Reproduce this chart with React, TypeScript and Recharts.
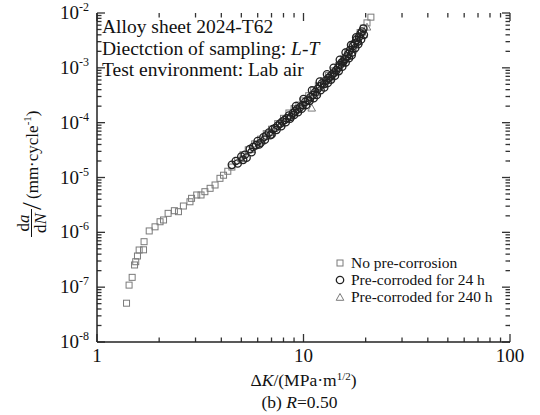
import { ReferenceLine, Scatter, ScatterChart, XAxis, YAxis } from "recharts";

const serif = "'Liberation Serif', 'DejaVu Serif', serif";

// ΔK (MPa·m^1/2) and da/dN (mm/cycle)
const noCorrDK = [
  1.39, 1.43, 1.48, 1.52, 1.54, 1.57, 1.6, 1.68, 1.69, 1.79, 1.91, 2.02, 2.1,
  2.21, 2.37, 2.48, 2.62, 2.82, 2.87, 3.04, 3.19, 3.33, 3.53, 3.73, 3.94, 4.1,
  4.3, 4.5, 4.8, 5.1, 5.4, 5.8, 6.2, 6.6, 7.0, 7.5, 8.0, 8.5, 9.0, 9.5, 10.0,
  10.6, 11.2, 11.8, 12.5, 13.2, 14.0, 14.8, 15.6, 16.4, 17.2, 18.0, 18.8, 19.5,
  20.3, 21.2,
];
const noCorrRate = [
  5.1e-8, 1.09e-7, 1.51e-7, 2.54e-7, 2.91e-7, 3.7e-7, 4.76e-7, 4.8e-7, 6.75e-7,
  1.06e-6, 1.26e-6, 1.56e-6, 1.68e-6, 2.22e-6, 2.48e-6, 2.38e-6, 3.02e-6,
  3.61e-6, 4.17e-6, 4.8e-6, 4.8e-6, 5.51e-6, 6.35e-6, 7.3e-6, 9.66e-6, 1.1e-5,
  1.3e-5, 1.55e-5, 2.05e-5, 2.6e-5, 3.2e-5, 4.1e-5, 5.0e-5, 6.3e-5, 7.6e-5,
  9.6e-5, 1.2e-4, 1.5e-4, 1.8e-4, 2.1e-4, 2.5e-4, 3.1e-4, 3.9e-4, 4.7e-4,
  5.8e-4, 7.2e-4, 8.8e-4, 1.1e-3, 1.45e-3, 1.95e-3, 2.6e-3, 3.4e-3, 4.4e-3,
  5.3e-3, 6.6e-3, 8.4e-3,
];

const corr24DK = [
  4.5, 4.7, 4.8, 5.0, 5.2, 5.3, 5.5, 5.7, 5.9, 6.0, 6.2, 6.4, 6.6, 6.8, 6.9,
  7.1, 7.3, 7.5, 7.7, 7.9, 8.1, 8.3, 8.5, 8.7, 8.9, 9.1, 9.3, 9.6, 9.9, 10.2,
  10.5, 10.8, 11.1, 11.4, 11.7, 12.0, 12.3, 12.6, 12.9, 13.2, 13.5, 13.8, 14.1,
  14.4, 14.7, 15.0, 15.3, 15.6, 15.9, 16.2, 16.5, 16.8, 17.1, 17.4, 17.7, 18.0,
  18.3, 18.6, 18.9, 19.2, 19.5, 5.1, 5.6, 6.1, 6.5, 7.0, 7.4, 7.8, 8.2, 8.6,
  9.0, 9.4, 9.8, 10.3, 10.7, 11.2, 11.6, 12.1, 12.6, 13.1, 13.6, 14.2, 14.8,
  15.4, 16.0, 16.6, 17.2, 17.8, 18.4, 19.0, 19.6, 9.2, 10.0, 11.0, 12.0, 13.0,
  14.0, 15.0, 16.0, 17.0, 18.0,
];
const corr24Rate = [
  1.7e-5, 2.0e-5, 1.8e-5, 2.4e-5, 2.6e-5, 2.3e-5, 3.3e-5, 3.6e-5, 3.9e-5,
  4.6e-5, 4.3e-5, 5.4e-5, 5.8e-5, 6.6e-5, 5.9e-5, 7.6e-5, 8.0e-5, 8.8e-5,
  9.6e-5, 1.05e-4, 1.12e-4, 1.2e-4, 1.35e-4, 1.28e-4, 1.5e-4, 1.6e-4, 1.75e-4,
  1.9e-4, 2.1e-4, 2.4e-4, 2.6e-4, 2.9e-4, 3.2e-4, 3.6e-4, 4.1e-4, 4.6e-4,
  5.2e-4, 5.1e-4, 5.9e-4, 6.5e-4, 7.0e-4, 7.6e-4, 8.2e-4, 9.0e-4, 1.0e-3,
  1.12e-3, 1.25e-3, 1.3e-3, 1.45e-3, 1.6e-3, 1.8e-3, 2.1e-3, 1.7e-3, 2.5e-3,
  2.8e-3, 3.2e-3, 3.0e-3, 3.7e-3, 4.2e-3, 4.6e-3, 5.2e-3, 2.1e-5, 2.9e-5,
  4.0e-5, 4.9e-5, 6.1e-5, 7.4e-5, 8.6e-5, 1.02e-4, 1.18e-4, 1.38e-4, 1.55e-4,
  1.8e-4, 2.1e-4, 2.5e-4, 2.8e-4, 3.2e-4, 3.9e-4, 4.4e-4, 5.3e-4, 6.1e-4,
  7.2e-4, 8.7e-4, 1.05e-3, 1.25e-3, 1.5e-3, 1.9e-3, 2.3e-3, 2.7e-3, 3.3e-3,
  4.0e-3, 2.0e-4, 2.7e-4, 3.9e-4, 5.6e-4, 7.6e-4, 1.0e-3, 1.4e-3, 1.9e-3,
  2.6e-3, 3.6e-3,
];

const corr240DK = [
  5.0, 5.6, 6.3, 7.0, 7.8, 8.6, 9.4, 10.0, 10.96, 11.5, 12.5, 13.5, 14.5, 15.5,
  16.5, 17.5, 18.5, 19.5, 20.3,
];
const corr240Rate = [
  2.2e-5, 3.2e-5, 4.6e-5, 6.5e-5, 9.5e-5, 1.3e-4, 1.7e-4, 2.0e-4, 1.83e-4,
  3.5e-4, 4.9e-4, 6.5e-4, 8.6e-4, 1.2e-3, 1.6e-3, 2.2e-3, 3.0e-3, 4.0e-3,
  5.5e-3,
];

const xMajor = [1, 10, 100];
const yMajor = [1e-8, 1e-7, 1e-6, 1e-5, 1e-4, 1e-3, 1e-2];
const xMinor = [2, 3, 4, 5, 6, 7, 8, 9, 20, 30, 40, 50, 60, 70, 80, 90];
const yMinor = yMajor
  .slice(0, -1)
  .flatMap((d) => [2, 3, 4, 5, 6, 7, 8, 9].map((m) => m * d));

const legendItems = [
  { name: "No pre-corrosion", mark: "square" },
  { name: "Pre-corroded for 24 h", mark: "circle" },
  { name: "Pre-corroded for 240 h", mark: "triangle" },
];

const toPoints = (xs: number[], ys: number[]) =>
  xs.map((x, i) => ({ x, y: ys[i] }));

const noCorr = toPoints(noCorrDK, noCorrRate);
const corr24 = toPoints(corr24DK, corr24Rate);
const corr240 = toPoints(corr240DK, corr240Rate);

const Square = ({ cx, cy }: any) => (
  <rect x={cx - 3} y={cy - 3} width={6} height={6} fill="none" stroke="#7a7a7a" strokeWidth={1} />
);
const Circle = ({ cx, cy }: any) => (
  <circle cx={cx} cy={cy} r={3.7} fill="none" stroke="#222" strokeWidth={1.3} />
);
const Triangle = ({ cx, cy }: any) => (
  <path d={`M${cx},${cy - 4}L${cx + 3.8},${cy + 2.8}L${cx - 3.8},${cy + 2.8}Z`} fill="none" stroke="#7a7a7a" strokeWidth={1} />
);

// inward tick marks on all four sides, drawn from reference lines
const tickColor = "#333";
const tickLen = (major: boolean) => (major ? 8 : 4.5);

const yTickShape = (major: boolean) => (p: any) => {
  const len = tickLen(major);
  const left = Math.min(p.x1, p.x2);
  const right = Math.max(p.x1, p.x2);
  const y = p.y1;
  return (
    <g>
      <line x1={left} x2={left + len} y1={y} y2={y} stroke={tickColor} strokeWidth={1.3} />
      <line x1={right - len} x2={right} y1={y} y2={y} stroke={tickColor} strokeWidth={1.3} />
    </g>
  );
};

const xTickShape = (major: boolean) => (p: any) => {
  const len = tickLen(major);
  const top = Math.min(p.y1, p.y2);
  const bottom = Math.max(p.y1, p.y2);
  const x = p.x1;
  return (
    <g>
      <line x1={x} x2={x} y1={bottom - len} y2={bottom} stroke={tickColor} strokeWidth={1.3} />
      <line x1={x} x2={x} y1={top} y2={top + len} stroke={tickColor} strokeWidth={1.3} />
    </g>
  );
};

function XTick({ x, y, payload }: any) {
  return (
    <text x={x} y={y + 20} textAnchor="middle" fontSize={19} fontFamily={serif} fill="#111">
      {payload.value}
    </text>
  );
}

function YTick({ x, y, payload }: any) {
  const exp = Math.round(Math.log10(payload.value));
  return (
    <text x={x - 8} y={y + 6} textAnchor="end" fontSize={19} fontFamily={serif} fill="#111">
      <tspan>10</tspan>
      <tspan dy={-8} fontSize={12}>{exp}</tspan>
    </text>
  );
}

function XTitle({ viewBox }: any) {
  const cx = viewBox.x + viewBox.width / 2;
  const top = viewBox.y;
  return (
    <g fontFamily={serif} fill="#111">
      <text x={cx} y={top + 44} textAnchor="middle" fontSize={17.5}>
        <tspan>Δ</tspan>
        <tspan fontStyle="italic">K</tspan>
        <tspan>/(MPa·m</tspan>
        <tspan dy={-6} fontSize={11}>1/2</tspan>
        <tspan dy={6}>)</tspan>
      </text>
      <text x={cx - 4} y={top + 66} textAnchor="middle" fontSize={17.5}>
        <tspan>(b) </tspan>
        <tspan fontStyle="italic">R</tspan>
        <tspan>=0.50</tspan>
      </text>
    </g>
  );
}

function YTitle() {
  return (
    <g transform="translate(31.5,170) rotate(-90)" fontFamily={serif} fill="#111" fontSize={17}>
      <text x={-53} y={-3} textAnchor="middle">
        d<tspan fontStyle="italic">a</tspan>
      </text>
      <rect x={-67} y={-0.5} width={28} height={1} fill="#111" />
      <text x={-53} y={14} textAnchor="middle">
        d<tspan fontStyle="italic">N</tspan>
      </text>
      <text x={-36} y={9} fontSize={28} textAnchor="middle">/</text>
      <text x={-29} y={6}>
        <tspan>(mm·cycle</tspan>
        <tspan dy={-7} fontSize={11}>-1</tspan>
        <tspan dy={7}>)</tspan>
      </text>
    </g>
  );
}

function LegendMark({ mark }: { mark: string }) {
  return (
    <svg width={10} height={10} style={{ marginRight: 6 }}>
      {mark === "square" && <Square cx={5} cy={5} />}
      {mark === "circle" && <Circle cx={5} cy={5} />}
      {mark === "triangle" && <Triangle cx={5} cy={5.5} />}
    </svg>
  );
}

const frame = { stroke: "#222", strokeWidth: 1.5 };

export default function App() {
  return (
    <div style={{ position: "fixed", left: 0, top: 0, width: 540, height: 415, background: "#fff" }}>
      <ScatterChart width={540} height={415} margin={{ top: 13, right: 30, bottom: 43, left: 37 }}>
        <XAxis
          dataKey="x"
          type="number"
          scale="log"
          domain={[1, 100]}
          allowDataOverflow
          ticks={xMajor}
          interval={0}
          tickSize={0}
          tickMargin={0}
          tickLine={false}
          axisLine={frame}
          tick={<XTick />}
          height={30}
          label={<XTitle />}
        />
        <XAxis
          xAxisId="top"
          orientation="top"
          dataKey="x"
          type="number"
          scale="log"
          domain={[1, 100]}
          allowDataOverflow
          tick={false}
          tickLine={false}
          axisLine={frame}
          height={0}
        />
        <YAxis
          dataKey="y"
          type="number"
          scale="log"
          domain={[1e-8, 1e-2]}
          allowDataOverflow
          ticks={yMajor}
          interval={0}
          tickSize={0}
          tickMargin={0}
          tickLine={false}
          axisLine={frame}
          tick={<YTick />}
          width={60}
          label={<YTitle />}
        />
        <YAxis
          yAxisId="right"
          orientation="right"
          dataKey="y"
          type="number"
          scale="log"
          domain={[1e-8, 1e-2]}
          allowDataOverflow
          tick={false}
          tickLine={false}
          axisLine={frame}
          width={0}
        />
        {yMajor.map((v) => (
          <ReferenceLine key={`ym${v}`} y={v} shape={yTickShape(true)} />
        ))}
        {yMinor.map((v) => (
          <ReferenceLine key={`yn${v}`} y={v} shape={yTickShape(false)} />
        ))}
        {xMajor.map((v) => (
          <ReferenceLine key={`xm${v}`} x={v} shape={xTickShape(true)} />
        ))}
        {xMinor.map((v) => (
          <ReferenceLine key={`xn${v}`} x={v} shape={xTickShape(false)} />
        ))}
        <Scatter name="No pre-corrosion" data={noCorr} shape={<Square />} isAnimationActive={false} />
        <Scatter name="Pre-corroded for 240 h" data={corr240} xAxisId="top" yAxisId="right" shape={<Triangle />} isAnimationActive={false} />
        <Scatter name="Pre-corroded for 24 h" data={corr24} shape={<Circle />} isAnimationActive={false} />
      </ScatterChart>
      <div style={{ position: "absolute", left: 102, top: 16, fontFamily: serif, fontSize: 19.5, lineHeight: "21.5px", color: "#111" }}>
        <div>Alloy sheet 2024-T62</div>
        <div>
          Diectction of sampling: <i>L</i>-<i>T</i>
        </div>
        <div>Test environment: Lab air</div>
      </div>
      <div style={{ position: "absolute", left: 335, top: 254, fontFamily: serif, fontSize: 15.5, lineHeight: "17px", color: "#111" }}>
        {legendItems.map((it) => (
          <div key={it.name} style={{ display: "flex", alignItems: "center" }}>
            <LegendMark mark={it.mark} />
            <span>{it.name}</span>
          </div>
        ))}
      </div>
    </div>
  );
}
